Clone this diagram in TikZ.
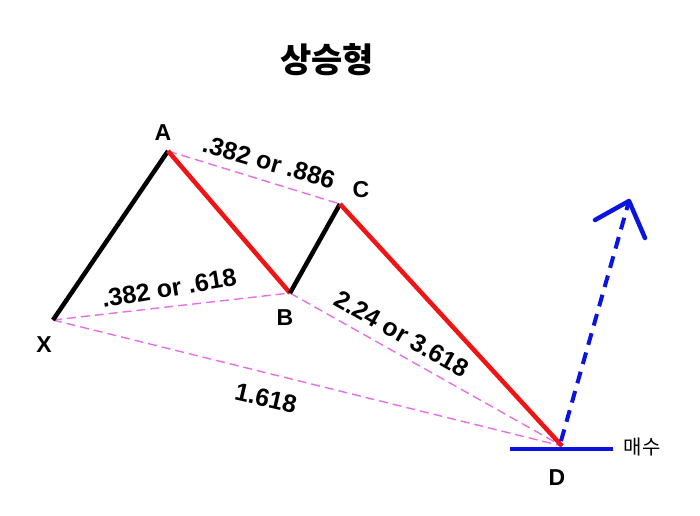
\documentclass[tikz,border=0pt]{standalone}
\usepackage{fontspec}
\setmainfont{Liberation Sans}
\newfontfamily\kr{Noto Sans CJK KR}
\definecolor{pinkv}{RGB}{232,110,232}
\definecolor{redl}{RGB}{240,20,20}
\definecolor{bluel}{RGB}{10,20,225}
\tikzset{
  guide/.style={pinkv, line width=1.4pt, dash pattern=on 9pt off 5pt},
  legblack/.style={black, line width=4.5pt},
  legred/.style={redl, line width=4.5pt},
  pt/.style={font=\bfseries\fontsize{23}{26}\selectfont, inner sep=0pt},
  ratio/.style={font=\bfseries\fontsize{25}{28}\selectfont, inner sep=0pt},
}
\begin{document}
\begin{tikzpicture}[x=1pt,y=-1pt]
\useasboundingbox (0,0) rectangle (700,515);
\coordinate (X) at (53,320);
\coordinate (A) at (168,151);
\coordinate (B) at (290,293);
\coordinate (C) at (340,204);
\coordinate (D) at (562,446);
\coordinate (T) at (629,201);
\coordinate (HL) at (510,449);
\coordinate (HR) at (613,449);
\coordinate (AL) at (595,220);
\coordinate (AR) at (645,238);
\coordinate (DS) at (561,441);
% guide lines
\draw[guide] (A) -- (C);
\draw[guide] (X) -- (B);
\draw[guide] (B) -- (D);
\draw[guide] (X) -- (D);
% legs
\draw[legblack] (X) -- (A);
\draw[legred] (A) -- (B);
\draw[legblack] (B) -- (C);
\draw[legred] (C) -- (D);
% buy
\draw[bluel, line width=4pt] (HL) -- (HR);
\draw[bluel, line width=4pt, dash pattern=on 12pt off 8pt] (DS) -- (T);
\draw[bluel, line width=4.5pt, line cap=round, line join=round] (AL) -- (T) -- (AR);
% labels
\node[pt] (lA) at (163,133) {A};
\node[pt] (lB) at (285,318) {B};
\node[pt] (lC) at (361,190) {C};
\node[pt] (lX) at (44,345) {X};
\node[pt] (lD) at (557,478) {D};
\node[ratio, rotate=-16] (rAC) at (269,162) {.382 or .886};
\node[ratio, rotate=9.6] (rXB) at (169,288) {.382 or .618};
\node[ratio, rotate=-29.5] (rBD) at (402,334) {2.24 or 3.618};
\node[ratio, rotate=-13] (rXD) at (266,398) {1.618};
\node[font=\kr\bfseries\fontsize{34}{38}\selectfont, inner sep=0pt] (title) at (327,60) {상승형};
\node[font=\kr\fontsize{20}{23}\selectfont, inner sep=0pt] (buy) at (642,447) {매수};
\end{tikzpicture}
\end{document}
